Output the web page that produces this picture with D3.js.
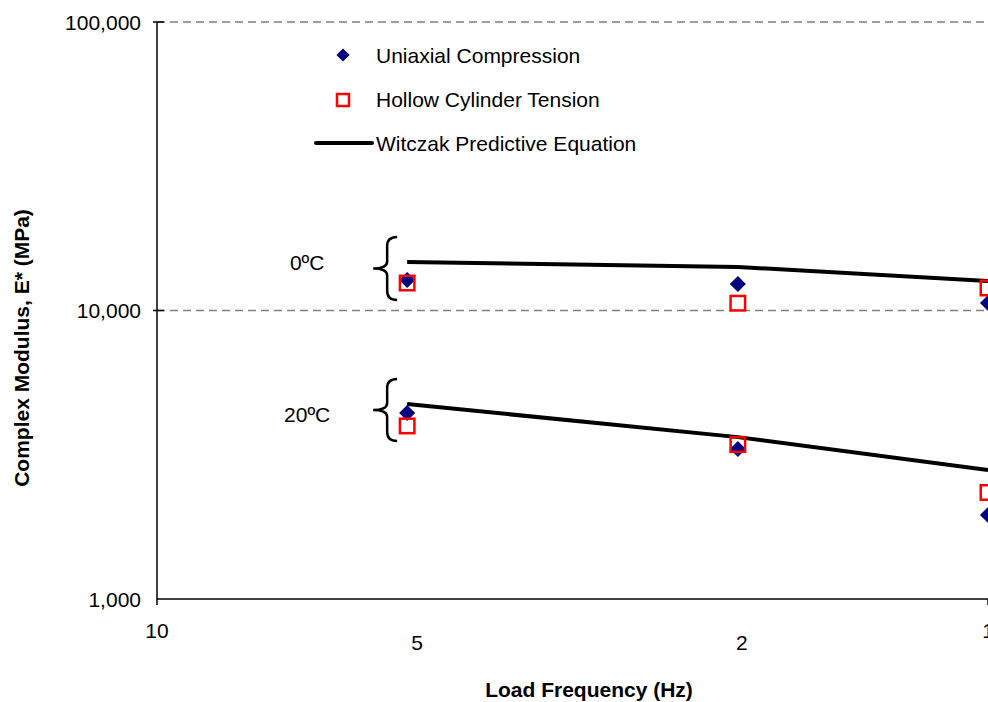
<!DOCTYPE html>
<html>
<head>
<meta charset="utf-8">
<script src="https://cdn.jsdelivr.net/npm/d3@7"></script>
<style>
  html, body { margin: 0; padding: 0; background: #fff; }
  svg { display: block; }
  text { font-family: "Liberation Sans", Arial, sans-serif; fill: #000; }
</style>
</head>
<body>
<svg id="chart" width="988" height="702"></svg>
<script>
// ---- data ----
const frequencies = [5, 2, 1];
const temperatures = ["0ºC", "20ºC"];
const uniaxial0 = [12750, 12350, 10620];
const uniaxial20 = [4410, 3310, 1955];
const hollow0 = [12450, 10600, 11970];
const hollow20 = [3980, 3430, 2340];
const witczak0 = [14730, 14150, 12650];
const witczak20 = [4740, 3640, 2800];
const yTickValues = [1000, 10000, 100000];
const yGridValues = [10000, 100000];
const xTickLabels = [10, 5, 2, 1];
const braceRanges = [[10870, 17980], [3530, 5790]]; // E* extent of each brace
const tempLabelLevels = [14670, 4375];               // E* level of each temperature label
const legendLabels = ["Uniaxial Compression", "Hollow Cylinder Tension", "Witczak Predictive Equation"];

// ---- layout ----
const W = 988, H = 702;
const plotLeft = 157, plotTop = 22, plotBottom = 599;
const svg = d3.select("#chart");

const x = d3.scaleLog().domain([10, 1]).range([plotLeft, 988]);
const y = d3.scaleLog().domain([1000, 100000]).range([plotBottom, plotTop]);

// gridlines (dashed)
svg.append("g").selectAll("line").data(yGridValues).join("line")
  .attr("x1", plotLeft).attr("x2", W)
  .attr("y1", d => y(d)).attr("y2", d => y(d))
  .attr("stroke", "#808080").attr("stroke-width", 1.5)
  .attr("stroke-dasharray", "8,5");

// axes lines
svg.append("line").attr("x1", plotLeft).attr("x2", plotLeft).attr("y1", plotTop).attr("y2", plotBottom)
  .attr("stroke", "#000").attr("stroke-width", 1.5);
svg.append("line").attr("x1", plotLeft).attr("x2", W).attr("y1", plotBottom).attr("y2", plotBottom)
  .attr("stroke", "#000").attr("stroke-width", 1.5);
// y tick marks (cross)
svg.append("g").selectAll("line").data(yGridValues).join("line")
  .attr("x1", plotLeft - 4).attr("x2", plotLeft + 7)
  .attr("y1", d => y(d)).attr("y2", d => y(d))
  .attr("stroke", "#000").attr("stroke-width", 1.5);
// x tick marks at decades
svg.append("g").selectAll("line").data([10, 1]).join("line")
  .attr("x1", d => x(d)).attr("x2", d => x(d))
  .attr("y1", plotBottom).attr("y2", plotBottom + 6)
  .attr("stroke", "#000").attr("stroke-width", 1.5);

// y tick labels
const fmt = d3.format(",");
svg.append("g").selectAll("text").data(yTickValues).join("text")
  .attr("x", plotLeft - 16).attr("y", d => y(d) + 7.5)
  .attr("text-anchor", "end").style("font-size", "21px")
  .text(d => fmt(d));

// x tick labels (decades, plus custom labels slightly lower)
svg.append("g").selectAll("text").data(xTickLabels).join("text")
  .attr("x", d => (d === 10 || d === 1) ? x(d) : x(d) + (d === 5 ? 10 : 4))
  .attr("y", d => (d === 10 || d === 1) ? 637.5 : 650)
  .attr("text-anchor", "middle").style("font-size", "21px")
  .text(d => d);

// axis titles
svg.append("text").attr("x", 589).attr("y", 697)
  .attr("text-anchor", "middle").style("font-size", "21px").style("font-weight", "bold")
  .text("Load Frequency (Hz)");
svg.append("text").attr("transform", "translate(29,348) rotate(-90)")
  .attr("text-anchor", "middle").style("font-size", "21px").style("font-weight", "bold")
  .text("Complex Modulus, E* (MPa)");

// Witczak lines
const line = d3.line().x((d, i) => x(frequencies[i])).y(d => y(d));
[witczak0, witczak20].forEach(s => {
  svg.append("path").datum(s).attr("d", line)
    .attr("fill", "none").attr("stroke", "#000").attr("stroke-width", 4);
});

// diamonds
const diamond = d3.symbol().type(d3.symbolDiamond2).size(165);
[uniaxial0, uniaxial20].forEach(s => {
  svg.append("g").selectAll("path").data(s).join("path")
    .attr("d", diamond)
    .attr("transform", (d, i) => `translate(${x(frequencies[i])},${y(d)})`)
    .attr("fill", "#000080");
});

// squares
const sq = 14.5;
[hollow0, hollow20].forEach(s => {
  svg.append("g").selectAll("rect").data(s).join("rect")
    .attr("x", (d, i) => x(frequencies[i]) - sq / 2)
    .attr("y", d => y(d) - sq / 2)
    .attr("width", sq).attr("height", sq)
    .attr("fill", "none").attr("stroke", "#ff0000").attr("stroke-width", 2.5);
});

// braces + temperature labels
braceRanges.forEach((r, i) => {
  const xr = x(frequencies[0]) - 10;
  const xm = xr - 10;
  const xt = xr - 24;
  const y0 = y(r[1]), y1 = y(r[0]);
  const ym = (y0 + y1) / 2;
  const p = d3.path();
  p.moveTo(xr, y0);
  p.quadraticCurveTo(xm, y0, xm, y0 + 9);
  p.lineTo(xm, ym - 7);
  p.quadraticCurveTo(xm, ym, xt, ym);
  p.quadraticCurveTo(xm, ym, xm, ym + 7);
  p.lineTo(xm, y1 - 9);
  p.quadraticCurveTo(xm, y1, xr, y1);
  svg.append("path").attr("d", p.toString())
    .attr("fill", "none").attr("stroke", "#000").attr("stroke-width", 2.5);
  svg.append("text").attr("x", x(frequencies[0]) - 100).attr("y", y(tempLabelLevels[i]) + 7.5)
    .attr("text-anchor", "middle").style("font-size", "21px")
    .text(temperatures[i]);
});

// legend
const lg = svg.append("g");
lg.append("path").attr("d", d3.symbol().type(d3.symbolDiamond2).size(110))
  .attr("transform", "translate(343,55)").attr("fill", "#000080");
lg.append("rect").attr("x", 337).attr("y", 94).attr("width", 12).attr("height", 12)
  .attr("fill", "none").attr("stroke", "#ff0000").attr("stroke-width", 2.5);
lg.append("line").attr("x1", 316).attr("x2", 372).attr("y1", 143).attr("y2", 143)
  .attr("stroke", "#000").attr("stroke-width", 4).attr("stroke-linecap", "round");
lg.selectAll("text").data(legendLabels).join("text")
  .attr("x", 376).attr("y", (d, i) => 62.5 + i * 44)
  .style("font-size", "21px")
  .text(d => d);
</script>
</body>
</html>
